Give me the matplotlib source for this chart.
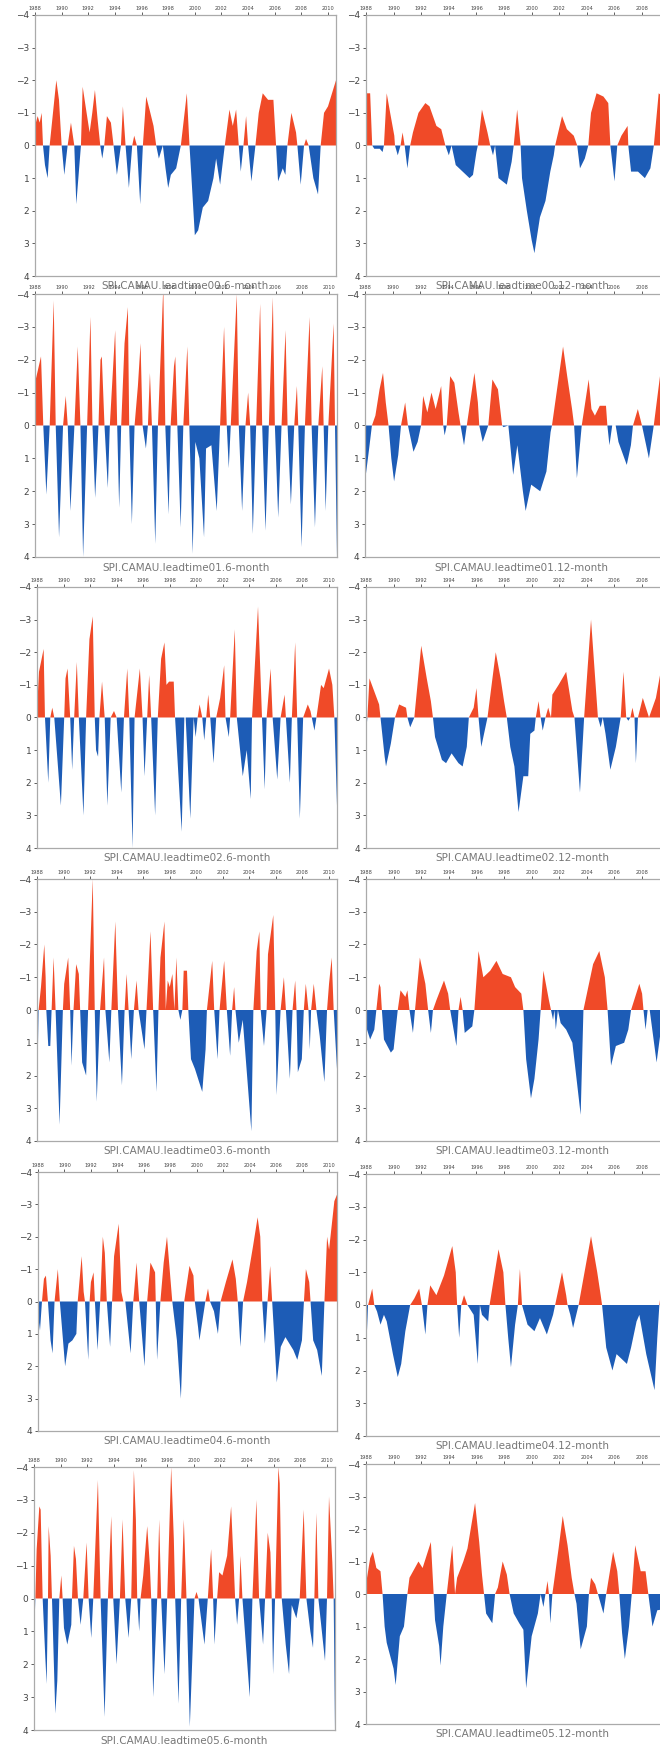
import numpy as np
import matplotlib.pyplot as plt

# SPI series, (year, value) key points
obs6 = [(1988.0,-0.6),(1988.2,-0.9),(1988.35,-0.7),(1988.5,-1.0),(1988.6,0),(1988.75,0.6),(1988.95,1.0),(1989.1,0),
        (1989.3,-0.8),(1989.6,-2.0),(1989.8,-1.4),(1990.0,0),(1990.2,0.9),(1990.45,0),(1990.7,-0.7),(1990.95,0),
        (1991.1,1.8),(1991.45,0),(1991.58,-1.8),(1991.8,-1.2),(1992.1,-0.4),(1992.3,-1.0),(1992.5,-1.7),(1992.7,-0.8),
        (1992.9,0),(1993.05,0.4),(1993.2,0),(1993.4,-0.9),(1993.7,-0.7),(1993.9,0),(1994.15,0.9),(1994.45,0),
        (1994.6,-1.2),(1994.8,0),(1995.05,1.3),(1995.3,0),(1995.45,-0.3),(1995.65,0),(1995.9,1.8),(1996.1,0),
        (1996.35,-1.5),(1996.6,-1.1),(1996.9,-0.6),(1997.1,0),(1997.3,0.4),(1997.6,0),(1997.8,0.7),(1998.0,1.3),
        (1998.2,0.9),(1998.6,0.7),(1998.95,0),(1999.4,-1.6),(1999.6,0),(1999.75,1.0),(2000.0,2.75),(2000.25,2.6),
        (2000.6,1.9),(2001.0,1.7),(2001.4,1.0),(2001.6,0.4),(2001.9,1.2),(2002.25,0),(2002.6,-1.1),(2002.85,-0.6),
        (2003.1,-1.1),(2003.3,0),(2003.45,0.8),(2003.65,0),(2003.85,-0.9),(2004.0,0),(2004.25,1.1),(2004.55,0),
        (2004.8,-1.0),(2005.1,-1.6),(2005.5,-1.4),(2005.9,-1.4),(2006.1,0),(2006.25,1.1),(2006.6,0.7),(2006.8,0.9),
        (2006.95,0),(2007.25,-1.0),(2007.6,-0.4),(2007.7,0),(2007.95,1.2),(2008.2,0),(2008.35,-0.2),(2008.55,0),
        (2008.9,1.0),(2009.25,1.5),(2009.45,0),(2009.7,-1.0),(2010.0,-1.2),(2010.3,-1.6),(2010.6,-2.0)]

obs12 = [(1988.0,-1.6),(1988.3,-1.6),(1988.45,0),(1988.6,0.1),(1989.0,0.1),(1989.2,0.2),(1989.3,0),(1989.5,-1.6),
         (1989.75,-1.0),(1990.05,-0.3),(1990.1,0),(1990.3,0.3),(1990.5,0),(1990.65,-0.4),(1990.8,0),(1991.0,0.7),
         (1991.2,0),(1991.4,-0.4),(1991.8,-1.0),(1992.3,-1.3),(1992.6,-1.2),(1993.1,-0.6),(1993.45,-0.5),(1993.75,0),
         (1994.0,0.3),(1994.2,0),(1994.5,0.6),(1995.0,0.8),(1995.5,1.0),(1995.75,0.9),(1996.0,0.2),(1996.1,0),
         (1996.4,-1.1),(1996.8,-0.4),(1997.0,0),(1997.2,0.3),(1997.35,0),(1997.6,1.0),(1998.2,1.2),(1998.55,0.5),
         (1998.7,0),(1998.95,-1.1),(1999.2,0),(1999.3,1.0),(1999.65,2.0),(2000.0,2.9),(2000.2,3.3),(2000.6,2.2),
         (2001.0,1.7),(2001.35,0.8),(2001.6,0.3),(2001.7,0),(2002.2,-0.9),(2002.55,-0.5),(2003.05,-0.3),(2003.3,0),
         (2003.5,0.7),(2003.85,0.4),(2004.1,0),(2004.3,-1.0),(2004.7,-1.6),(2005.2,-1.5),(2005.55,-1.3),(2005.7,0),
         (2006.0,1.1),(2006.2,0),(2006.5,-0.3),(2006.95,-0.6),(2007.0,0),(2007.2,0.8),(2007.7,0.8),(2008.2,1.0),
         (2008.6,0.7),(2008.85,0),(2009.2,-1.6),(2009.8,-1.4),(2010.6,-1.2)]

lead01_6 = [(1988.0,-1.3),(1988.45,-2.1),(1988.62,0),(1988.85,2.1),(1989.1,0),(1989.4,-3.8),(1989.55,0),(1989.8,3.4),
            (1990.1,0),(1990.3,-0.9),(1990.45,0),(1990.65,2.6),(1990.95,0),(1991.2,-2.4),(1991.4,0),(1991.6,4.0),
            (1991.9,0),(1992.15,-3.3),(1992.3,0),(1992.5,2.2),(1992.65,1.0),(1992.75,0),(1992.9,-2.0),(1993.0,-2.1),
            (1993.2,0),(1993.45,1.9),(1993.6,0),(1994.0,-2.9),(1994.15,0),(1994.3,2.5),(1994.45,0),(1994.7,-2.5),
            (1994.95,-3.6),(1995.05,0),(1995.25,3.0),(1995.45,0),(1995.7,-1.2),(1995.9,-2.5),(1996.05,0),(1996.3,0.7),
            (1996.45,0),(1996.6,-1.6),(1996.75,0),(1997.0,3.6),(1997.2,0),(1997.6,-4.2),(1997.75,0),(1998.0,2.7),
            (1998.15,0),(1998.4,-1.8),(1998.5,-2.1),(1998.65,0),(1998.9,3.1),(1999.1,0),(1999.4,-2.4),(1999.55,0),
            (1999.8,3.9),(2000.0,0.5),(2000.3,1.0),(2000.65,3.4),(2000.8,0.7),(2001.2,0.6),(2001.6,2.6),(2001.85,0),
            (2002.15,-3.0),(2002.35,0),(2002.5,1.3),(2002.65,0),(2003.1,-4.0),(2003.25,0),(2003.5,2.6),(2003.75,0),
            (2003.95,-1.0),(2004.1,0),(2004.3,3.3),(2004.55,0),(2004.85,-3.7),(2005.0,0),(2005.25,3.2),(2005.5,0),
            (2005.8,-3.9),(2005.95,0),(2006.2,2.8),(2006.45,0),(2006.75,-2.9),(2006.9,0),(2007.15,2.4),(2007.4,0),
            (2007.6,-1.2),(2007.7,0),(2007.95,3.7),(2008.2,0),(2008.55,-3.3),(2008.7,0),(2008.95,3.1),(2009.2,0),
            (2009.5,-1.8),(2009.6,0),(2009.75,2.6),(2009.95,0),(2010.35,-3.1),(2010.45,0),(2010.6,4.0)]

lead01_12 = [(1988.0,1.7),(1988.3,0.7),(1988.5,0),(1988.75,-0.3),(1989.05,-1.1),(1989.3,-1.6),(1989.5,-0.7),(1989.7,0),
             (1989.9,1.0),(1990.1,1.7),(1990.4,0.9),(1990.6,0),(1990.9,-0.7),(1991.1,0),(1991.5,0.8),(1991.8,0.5),
             (1992.05,0),(1992.2,-0.9),(1992.5,-0.4),(1992.8,-1.0),(1993.1,-0.5),(1993.5,-1.2),(1993.65,0),(1993.75,0.3),
             (1993.9,0),(1994.15,-1.5),(1994.45,-1.3),(1994.75,-0.4),(1994.9,0),(1995.15,0.6),(1995.35,0),(1995.9,-1.6),
             (1996.15,-0.7),(1996.25,0),(1996.5,0.5),(1996.9,0),(1997.2,-1.4),(1997.6,-1.1),(1997.9,0),(1998.0,0.05),
             (1998.35,0),(1998.7,1.5),(1999.0,0.6),(1999.4,2.0),(1999.6,2.6),(2000.0,1.8),(2000.65,2.0),(2001.1,1.4),
             (2001.4,0.2),(2001.5,0),(2002.3,-2.4),(2002.6,-1.5),(2002.95,-0.5),(2003.1,0),(2003.3,1.6),(2003.65,0),
             (2004.15,-1.4),(2004.35,-0.5),(2004.6,-0.3),(2004.95,-0.6),(2005.4,-0.6),(2005.5,0),(2005.65,0.6),
             (2005.85,0),(2006.1,0),(2006.3,0.5),(2006.9,1.2),(2007.2,0.6),(2007.35,0),(2007.7,-0.5),(2008.0,0),
             (2008.5,1.0),(2008.85,0),(2009.3,-1.5),(2010.6,-1.5)]

lead02_6 = [(1988.0,-0.2),(1988.15,-1.4),(1988.5,-2.1),(1988.6,0),(1988.85,2.0),(1989.0,0),(1989.15,-0.3),(1989.3,0),
            (1989.8,2.7),(1990.05,0),(1990.15,-1.2),(1990.3,-1.5),(1990.5,0),(1990.65,1.6),(1990.8,0),(1991.0,-1.7),
            (1991.15,0),(1991.5,3.0),(1991.7,0),(1991.95,-2.4),(1992.2,-3.1),(1992.35,0),(1992.45,1.0),(1992.6,1.2),
            (1992.7,0),(1992.9,-1.1),(1993.1,0),(1993.3,2.7),(1993.55,0),(1993.8,-0.2),(1994.0,0),(1994.35,2.3),
            (1994.55,0),(1994.8,-1.5),(1994.95,0),(1995.2,4.0),(1995.35,0),(1995.75,-1.5),(1995.95,0),(1996.1,1.8),
            (1996.3,0),(1996.45,-1.3),(1996.6,0),(1996.9,3.0),(1997.1,0),(1997.35,-1.8),(1997.6,-2.3),(1997.75,-1.0),
            (1997.95,-1.1),(1998.3,-1.1),(1998.4,0),(1998.9,3.5),(1999.1,0),(1999.2,0),(1999.55,3.1),(1999.8,0),
            (1999.95,0.6),(2000.1,0),(2000.25,-0.4),(2000.45,0),(2000.6,0.7),(2000.75,0),(2000.9,-0.7),(2001.05,0),
            (2001.3,1.4),(2001.5,0),(2001.8,-0.6),(2002.1,-1.6),(2002.2,0),(2002.45,0.6),(2002.55,0),(2002.9,-2.7),
            (2003.05,0),(2003.5,1.8),(2003.8,1.0),(2004.1,2.5),(2004.2,0),(2004.65,-3.4),(2004.95,0),(2005.15,2.2),
            (2005.3,0),(2005.6,-1.5),(2005.75,0),(2006.1,1.9),(2006.35,0),(2006.65,-0.7),(2006.75,0),(2007.05,2.0),
            (2007.2,0),(2007.45,-2.3),(2007.6,0),(2007.8,3.1),(2008.05,0),(2008.4,-0.4),(2008.6,-0.2),(2008.7,0),
            (2008.9,0.4),(2009.05,0),(2009.4,-1.0),(2009.6,-0.9),(2010.0,-1.5),(2010.25,-1.0),(2010.4,0),(2010.6,2.7)]

lead02_12 = [(1988.0,0.5),(1988.1,0),(1988.25,-1.2),(1988.6,-0.8),(1988.95,-0.4),(1989.05,0),(1989.35,1.2),(1989.45,1.5),
             (1989.8,0.8),(1990.1,0),(1990.4,-0.4),(1990.9,-0.3),(1991.0,0),(1991.2,0.3),(1991.5,0),(1992.0,-2.2),
             (1992.4,-1.2),(1992.7,-0.5),(1992.85,0),(1993.0,0.6),(1993.5,1.3),(1993.8,1.4),(1994.2,1.1),(1994.7,1.4),
             (1995.0,1.5),(1995.3,0.9),(1995.45,0),(1995.8,-0.3),(1996.0,-0.9),(1996.15,0),(1996.35,0.9),(1996.8,0),
             (1997.4,-2.0),(1997.75,-1.2),(1998.0,-0.5),(1998.2,0),(1998.45,0.9),(1998.75,1.5),(1999.05,2.9),
             (1999.4,1.8),(1999.75,1.8),(1999.9,0.5),(2000.2,0.4),(2000.3,0),(2000.5,-0.5),(2000.65,0),(2000.8,0.4),
             (2001.0,0),(2001.2,-0.3),(2001.4,0),(2001.5,-0.7),(2001.95,-1.0),(2002.5,-1.4),(2002.95,-0.2),(2003.1,0),
             (2003.5,2.3),(2003.8,0),(2004.3,-3.0),(2004.6,-1.2),(2004.8,0),(2005.0,0.3),(2005.15,0),(2005.35,0.5),
             (2005.7,1.6),(2006.1,0.9),(2006.45,0),(2006.65,-1.4),(2006.85,0),(2007.0,0.1),(2007.15,0),(2007.3,-0.3),
             (2007.45,0),(2007.55,1.4),(2007.7,0),(2008.05,-0.6),(2008.5,0),(2009.0,-0.6),(2009.3,-1.3),(2010.6,-1.3)]

lead03_6 = [(1988.0,2.8),(1988.12,0),(1988.3,-0.7),(1988.55,-2.0),(1988.65,-1.0),(1988.7,0),(1988.85,1.1),(1989.0,1.1),
            (1989.1,0),(1989.25,-1.6),(1989.4,0),(1989.7,3.5),(1989.95,0),(1990.05,-0.8),(1990.35,-1.6),(1990.5,0),
            (1990.6,1.7),(1990.75,0),(1990.95,-1.4),(1991.15,-1.1),(1991.25,0),(1991.4,1.6),(1991.7,2.0),(1991.85,0),
            (1992.2,-4.0),(1992.35,0),(1992.5,2.8),(1992.75,0),(1993.05,-1.6),(1993.15,0),(1993.45,1.6),(1993.6,0),
            (1993.9,-2.7),(1994.1,0),(1994.4,2.3),(1994.6,0),(1994.75,-1.1),(1994.9,0),(1995.1,1.5),(1995.3,0),
            (1995.5,-0.9),(1995.65,0),(1996.1,1.2),(1996.25,0),(1996.55,-2.4),(1996.75,0),(1997.0,2.5),(1997.15,0),
            (1997.3,-1.6),(1997.6,-2.7),(1997.7,0),(1997.85,-0.9),(1998.0,-0.7),(1998.2,-1.1),(1998.35,0),
            (1998.5,-1.6),(1998.65,0),(1998.8,0.3),(1998.95,0),(1999.05,-1.2),(1999.3,-1.2),(1999.4,0),(1999.6,1.5),
            (1999.9,1.8),(2000.45,2.5),(2000.7,1.2),(2000.8,0),(2001.2,-1.5),(2001.35,0),(2001.6,1.5),(2001.75,0),
            (2002.1,-1.5),(2002.3,0),(2002.55,1.4),(2002.7,0),(2002.85,-0.7),(2002.95,0),(2003.2,1.0),(2003.5,0.3),
            (2004.15,3.7),(2004.3,0),(2004.55,-1.8),(2004.75,-2.4),(2004.85,0),(2005.1,1.1),(2005.3,0),(2005.4,-1.7),
            (2005.8,-2.9),(2005.95,0),(2006.05,2.6),(2006.35,0),(2006.6,-1.0),(2006.75,0),(2007.05,2.1),(2007.25,0),
            (2007.45,-0.9),(2007.55,0),(2007.65,1.9),(2007.95,1.5),(2008.1,0),(2008.25,-0.8),(2008.45,0),(2008.55,1.2),
            (2008.65,0),(2008.85,-0.8),(2009.05,0),(2009.3,0.8),(2009.65,2.2),(2009.85,0),(2010.0,-0.8),(2010.2,-1.6),
            (2010.35,0),(2010.6,1.8)]

lead03_12 = [(1988.0,0.5),(1988.3,0.9),(1988.6,0.6),(1988.75,0),(1988.95,-0.8),(1989.05,-0.7),(1989.15,0),(1989.3,0.9),
             (1989.8,1.3),(1990.0,1.2),(1990.15,0.6),(1990.3,0),(1990.5,-0.6),(1990.85,-0.4),(1991.0,-0.6),(1991.15,0),
             (1991.4,0.7),(1991.55,0),(1991.9,-1.6),(1992.3,-0.8),(1992.5,0),(1992.7,0.7),(1992.85,0),(1993.1,-0.3),
             (1993.65,-0.9),(1993.95,-0.5),(1994.1,0),(1994.55,1.1),(1994.7,0),(1994.85,-0.4),(1995.0,0),(1995.15,0.7),
             (1995.7,0.5),(1995.85,0),(1996.15,-1.8),(1996.5,-1.0),(1997.0,-1.2),(1997.45,-1.5),(1997.9,-1.1),
             (1998.5,-1.0),(1998.8,-0.7),(1999.25,-0.5),(1999.4,0),(1999.6,1.5),(1999.95,2.7),(2000.2,2.1),(2000.5,0.9),
             (2000.65,0),(2000.85,-1.2),(2001.25,-0.3),(2001.4,0),(2001.55,0.3),(2001.65,0),(2001.75,0.6),(2001.9,0),
             (2002.1,0.4),(2002.5,0.6),(2002.95,1.0),(2003.55,3.2),(2003.75,0),(2004.45,-1.4),(2004.9,-1.8),
             (2005.3,-1.0),(2005.5,0),(2005.75,1.7),(2006.1,1.1),(2006.7,1.0),(2007.0,0.6),(2007.2,0),(2007.8,-0.8),
             (2008.0,-0.5),(2008.1,0),(2008.25,0.6),(2008.4,0),(2008.55,0),(2009.05,1.6),(2009.3,0.8),(2010.6,0.5)]

lead04_6 = [(1988.0,0.4),(1988.15,0.9),(1988.3,0),(1988.45,-0.7),(1988.6,-0.8),(1988.75,0),(1988.95,1.2),(1989.1,1.6),
            (1989.25,0),(1989.5,-1.0),(1989.65,0),(1989.85,1.0),(1990.05,2.0),(1990.3,1.3),(1990.6,1.2),(1990.9,1.0),
            (1991.0,0),(1991.3,-1.4),(1991.45,-0.3),(1991.55,0),(1991.8,1.8),(1991.9,0),(1992.0,-0.6),(1992.2,-0.9),
            (1992.3,0),(1992.5,1.5),(1992.7,0),(1992.9,-2.0),(1993.05,-1.5),(1993.2,0),(1993.45,1.4),(1993.6,0),
            (1993.75,-1.4),(1994.1,-2.4),(1994.3,-0.3),(1994.45,0),(1994.6,0),(1995.0,1.6),(1995.2,0),(1995.45,-1.2),
            (1995.65,0),(1996.05,2.0),(1996.25,0),(1996.5,-1.2),(1996.85,-0.9),(1996.9,0),(1997.0,1.8),(1997.25,0),
            (1997.5,-1.2),(1997.75,-2.0),(1997.95,-1.0),(1998.15,0),(1998.5,1.2),(1998.8,3.0),(1999.05,0),
            (1999.45,-1.1),(1999.75,-0.8),(1999.85,0),(2000.1,0.8),(2000.2,1.2),(2000.5,0.4),(2000.65,0),
            (2000.85,-0.4),(2001.0,0),(2001.3,0.3),(2001.6,1.0),(2001.8,0),(2002.2,-0.6),(2002.7,-1.3),(2002.95,-0.7),
            (2003.1,0),(2003.3,1.4),(2003.5,0),(2003.8,-0.6),(2004.25,-1.7),(2004.6,-2.6),(2004.8,-2.0),(2004.95,0),
            (2005.15,1.3),(2005.35,0),(2005.55,-1.1),(2005.7,0),(2005.9,1.4),(2006.05,2.5),(2006.35,1.4),(2006.7,1.1),
            (2007.3,1.5),(2007.6,1.8),(2007.95,1.2),(2008.1,0),(2008.25,-1.0),(2008.5,-0.6),(2008.6,0),(2008.8,1.2),
            (2009.1,1.5),(2009.45,2.3),(2009.65,0),(2009.85,-2.0),(2010.0,-1.6),(2010.4,-3.1),(2010.6,-3.3)]

lead04_12 = [(1988.0,1.5),(1988.15,0),(1988.45,-0.5),(1988.6,0),(1988.8,0.2),(1989.05,0.6),(1989.3,0.3),(1989.5,0.5),
             (1989.95,1.5),(1990.3,2.2),(1990.55,1.8),(1990.85,0.8),(1991.2,0),(1991.5,-0.2),(1991.85,-0.5),
             (1992.05,0),(1992.3,0.9),(1992.45,0),(1992.65,-0.6),(1993.1,-0.3),(1993.65,-0.9),(1994.25,-1.8),
             (1994.5,-1.0),(1994.6,0),(1994.75,1.0),(1994.9,0),(1995.1,-0.3),(1995.35,0),(1995.8,0.3),(1996.1,1.8),
             (1996.25,0),(1996.4,0.3),(1996.85,0.5),(1996.95,0),(1997.6,-1.7),(1997.95,-1.0),(1998.1,0),(1998.3,1.0),
             (1998.5,1.9),(1998.8,0.6),(1999.0,0),(1999.15,-1.1),(1999.3,0),(1999.7,0.6),(2000.2,0.8),(2000.6,0.4),
             (2001.1,0.9),(2001.55,0.3),(2001.7,0),(2002.2,-1.0),(2002.5,-0.3),(2002.6,0),(2002.8,0.3),(2003.0,0.7),
             (2003.4,0),(2004.3,-2.1),(2004.75,-1.0),(2005.0,-0.3),(2005.1,0),(2005.4,1.3),(2005.85,2.0),(2006.15,1.5),
             (2006.9,1.8),(2007.2,1.3),(2007.6,0.5),(2007.8,0.3),(2008.3,1.5),(2008.9,2.6),(2009.1,1.0),(2009.25,0),
             (2009.4,-0.5),(2010.6,-0.6)]

lead05_6 = [(1988.0,1.3),(1988.1,0),(1988.2,-1.5),(1988.4,-2.8),(1988.5,-2.7),(1988.65,0),(1988.85,1.8),(1988.95,2.6),
            (1989.05,0),(1989.1,-2.2),(1989.25,-1.3),(1989.35,0),(1989.6,3.5),(1989.75,2.5),(1989.9,0),(1990.05,-0.7),
            (1990.15,0),(1990.25,0.9),(1990.5,1.4),(1990.8,0.8),(1990.85,0),(1991.0,-1.6),(1991.15,-1.2),(1991.3,0),
            (1991.5,0.8),(1991.7,0),(1991.95,-1.7),(1992.1,0),(1992.3,1.2),(1992.45,0),(1992.8,-3.6),(1993.0,0),
            (1993.3,3.6),(1993.55,0),(1993.8,-2.5),(1993.95,0),(1994.2,2.0),(1994.45,0),(1994.65,-2.4),(1994.85,0),
            (1995.1,1.2),(1995.3,0),(1995.5,-3.9),(1995.65,-2.4),(1995.75,0),(1995.9,1.0),(1996.0,0),(1996.2,-0.7),
            (1996.5,-2.2),(1996.7,-1.0),(1996.8,0),(1996.95,3.0),(1997.25,0),(1997.4,-2.4),(1997.55,0),(1997.8,2.3),
            (1998.0,0),(1998.3,-4.0),(1998.5,-1.8),(1998.6,0),(1998.85,3.2),(1999.05,0),(1999.25,-2.4),(1999.45,0),
            (1999.7,3.9),(2000.05,0),(2000.2,-0.2),(2000.35,0),(2000.8,1.4),(2001.05,0),(2001.3,-1.5),(2001.45,0),
            (2001.55,1.4),(2001.75,0),(2001.9,-0.8),(2002.15,-0.7),(2002.5,-1.3),(2002.8,-2.8),(2003.0,-1.0),
            (2003.1,0),(2003.25,0.8),(2003.4,0),(2003.5,-1.3),(2003.65,0),(2004.2,3.0),(2004.4,0),(2004.7,-3.0),
            (2004.9,0),(2005.2,1.4),(2005.35,0),(2005.55,-2.0),(2005.75,-1.4),(2005.85,0),(2005.95,2.3),(2006.1,0),
            (2006.35,-4.0),(2006.45,-3.5),(2006.6,0),(2006.9,1.4),(2007.15,2.3),(2007.35,0.2),(2007.7,0.6),
            (2007.95,0),(2008.25,-2.7),(2008.45,0),(2008.75,1.0),(2008.95,1.5),(2009.05,0),(2009.2,-2.6),(2009.35,0),
            (2009.85,1.9),(2010.0,0),(2010.15,-3.1),(2010.4,-1.1),(2010.5,0),(2010.6,4.0)]

lead05_12 = [(1988.0,-0.3),(1988.3,-1.1),(1988.5,-1.3),(1988.75,-0.8),(1989.05,-0.7),(1989.2,0),(1989.35,1.0),
             (1989.5,1.5),(1990.0,2.3),(1990.15,2.8),(1990.45,1.3),(1990.75,1.0),(1991.0,0),(1991.15,-0.5),
             (1991.8,-1.0),(1992.1,-0.8),(1992.7,-1.6),(1992.9,0),(1993.0,0.8),(1993.3,1.6),(1993.4,2.2),(1993.6,1.0),
             (1993.85,0),(1994.25,-1.5),(1994.45,0),(1994.6,-0.5),(1995.05,-1.0),(1995.35,-1.4),(1995.9,-2.8),
             (1996.2,-1.6),(1996.4,-0.6),(1996.55,0),(1996.7,0.6),(1997.15,0.9),(1997.35,0),(1997.55,-0.2),
             (1997.9,-1.0),(1998.2,-0.6),(1998.4,0),(1998.7,0.6),(1999.1,0.9),(1999.4,1.1),(1999.6,2.9),(2000.0,1.3),
             (2000.45,0.6),(2000.65,0),(2000.85,0.4),(2001.0,0),(2001.15,-0.4),(2001.25,0),(2001.35,0.9),(2001.5,0),
             (2001.95,-1.4),(2002.25,-2.4),(2002.6,-1.5),(2002.9,-0.5),(2003.1,0),(2003.25,0.3),(2003.55,1.7),
             (2004.0,1.0),(2004.15,0),(2004.3,-0.5),(2004.6,-0.3),(2004.8,0),(2005.2,0.6),(2005.4,0),(2005.9,-1.3),
             (2006.2,-0.7),(2006.35,0),(2006.55,1.2),(2006.75,2.0),(2007.05,1.0),(2007.25,0),(2007.5,-1.5),
             (2007.9,-0.7),(2008.25,-0.7),(2008.45,0),(2008.75,1.0),(2009.1,0.5),(2010.6,0.4)]

titles_6 = ['SPI.CAMAU.leadtime00.6-month', 'SPI.CAMAU.leadtime01.6-month', 'SPI.CAMAU.leadtime02.6-month',
            'SPI.CAMAU.leadtime03.6-month', 'SPI.CAMAU.leadtime04.6-month', 'SPI.CAMAU.leadtime05.6-month']
titles_12 = ['SPI.CAMAU.leadtime00.12-month', 'SPI.CAMAU.leadtime01.12-month', 'SPI.CAMAU.leadtime02.12-month',
             'SPI.CAMAU.leadtime03.12-month', 'SPI.CAMAU.leadtime04.12-month', 'SPI.CAMAU.leadtime05.12-month']
years = list(range(1988, 2011, 2))

RED = '#f04a28'
BLUE = '#1d5cb6'
W, H = 660, 1744

# pixel boxes of the panels: (left, top, right, bottom)
left_boxes = [(35, 15, 336, 276), (35, 294, 337, 557), (37, 587, 337, 848),
              (37, 879, 337, 1141), (38, 1172, 337, 1431), (34, 1467, 335, 1730)]
right_boxes = [(366, 15, 678, 276), (365, 294, 678, 557), (366, 587, 678, 848),
               (366, 879, 678, 1141), (366, 1174, 678, 1436), (366, 1464, 678, 1724)]

fig = plt.figure(figsize=(W / 100, H / 100), dpi=100)


def panel(box, pts, title):
    l, t, r, b = box
    ax = fig.add_axes([l / W, 1 - b / H, (r - l) / W, (b - t) / H])
    x, v = np.array(pts).T
    ax.fill_between(x, v, 0, where=v <= 0, interpolate=True, color=RED, lw=0)
    ax.fill_between(x, v, 0, where=v >= 0, interpolate=True, color=BLUE, lw=0)
    ax.set_xlim(1988, 2010.6)
    ax.set_ylim(4, -4)
    ax.set_yticks(range(-4, 5))
    ax.set_xticks(years)
    ax.xaxis.tick_top()
    ax.tick_params(axis='x', labelsize=3.6, length=2, pad=1, colors='#444444', width=0.6)
    ax.tick_params(axis='y', labelsize=6.5, length=2.5, pad=1.5, colors='#444444', width=0.6)
    for s in ax.spines.values():
        s.set_color('#aaaaaa')
        s.set_linewidth(0.9)
    ax.text(0.5, -0.04, title, transform=ax.transAxes, ha='center', va='center',
            fontsize=7.5, color='#777777')
    return ax


series_6 = [obs6, lead01_6, lead02_6, lead03_6, lead04_6, lead05_6]
series_12 = [obs12, lead01_12, lead02_12, lead03_12, lead04_12, lead05_12]

for i in range(6):
    panel(left_boxes[i], series_6[i], titles_6[i])
    panel(right_boxes[i], series_12[i], titles_12[i])

fig.savefig('out.png', dpi=100, facecolor='white')
